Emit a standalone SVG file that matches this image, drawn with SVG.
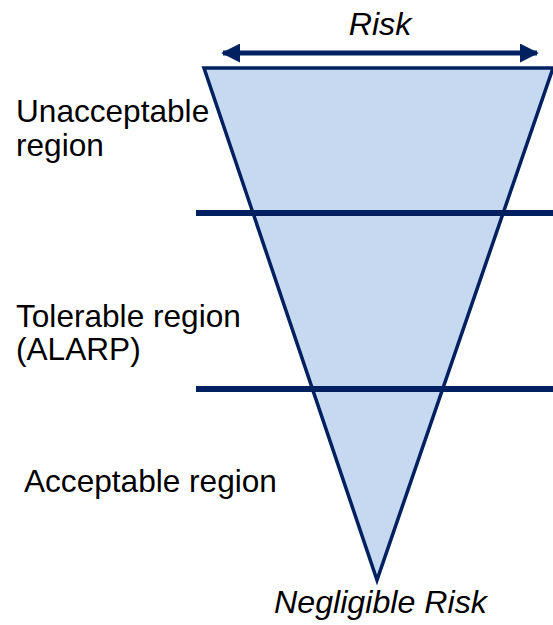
<svg xmlns="http://www.w3.org/2000/svg" width="553" height="625" viewBox="0 0 553 625">
<style>
.t{font-family:"Liberation Sans",Arial,sans-serif;font-size:31.6px;fill:#000}
.i{font-style:italic;font-size:32.2px}
.ln{stroke:#002060;stroke-width:6;fill:none}
</style>
<defs>
<marker id="ah" viewBox="0 0 10 10" refX="9" refY="5" markerWidth="3.8" markerHeight="3.8" orient="auto-start-reverse" markerUnits="strokeWidth">
<path d="M0,0 L10,5 L0,10 z" fill="#002060"/>
</marker>
</defs>
<rect width="553" height="625" fill="#fff"/>
<g id="triangle">
<polygon points="204,68 553,68 377,580" fill="#C6D9F1" stroke="#002060" stroke-width="3.5" stroke-linejoin="miter"/>
</g>
<g id="connectors">
<line class="ln" x1="196" y1="213" x2="553" y2="213"/>
<line class="ln" x1="196" y1="389" x2="553" y2="389"/>
<line x1="223" y1="53" x2="537" y2="53" stroke="#002060" stroke-width="5" marker-start="url(#ah)" marker-end="url(#ah)"/>
</g>
<g id="risk-label"><text class="t i" x="380" y="35" text-anchor="middle">Risk</text></g>
<g id="unacceptable"><text class="t" x="16" y="122">Unacceptable</text><text class="t" x="16" y="156">region</text></g>
<g id="tolerable"><text class="t" x="16" y="327">Tolerable region</text><text class="t" x="16" y="360">(ALARP)</text></g>
<g id="acceptable"><text class="t" x="24" y="492">Acceptable region</text></g>
<g id="negligible"><text class="t i" x="274" y="613">Negligible Risk</text></g>
</svg>
